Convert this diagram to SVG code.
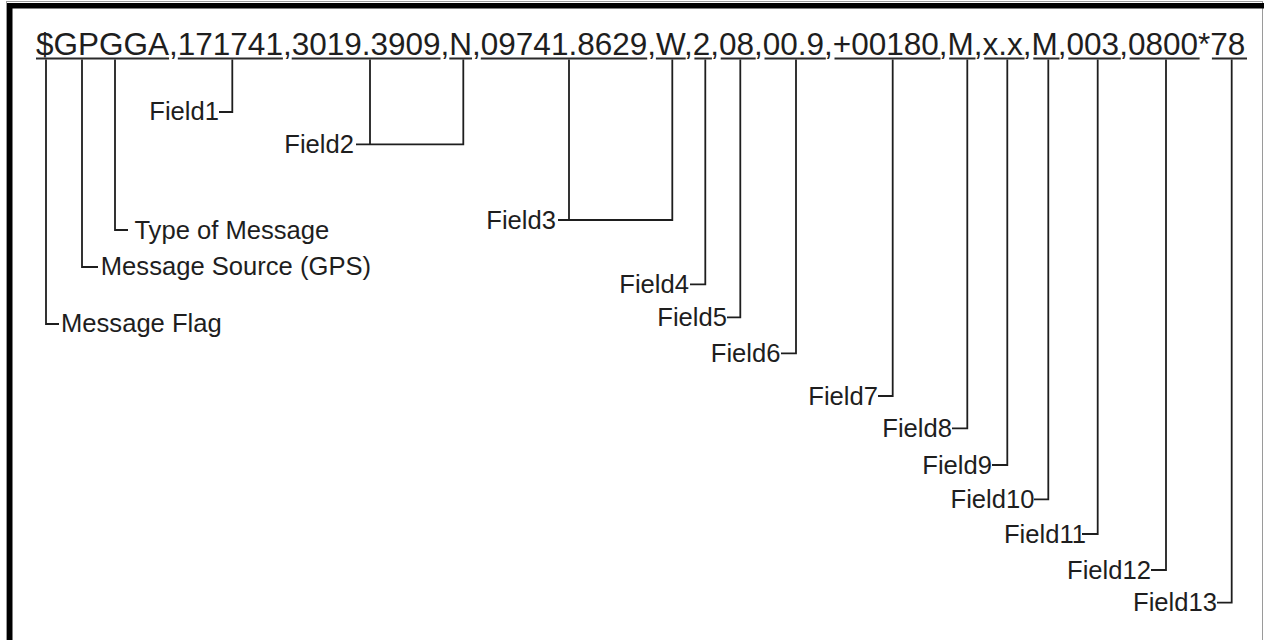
<svg xmlns="http://www.w3.org/2000/svg" width="1264" height="640" viewBox="0 0 1264 640">
  <style>
    .main { font-family: "Liberation Sans", Arial, sans-serif; font-size: 31.5px; fill: #1e1e1e; }
    .lbl { font-family: "Liberation Sans", Arial, sans-serif; font-size: 25.6px; fill: #1e1e1e; }
    .end { text-anchor: end; }
    .ul { stroke: #2a2a2a; stroke-width: 2; fill: none; }
    .conn { stroke: #1e1e1e; stroke-width: 1.8; fill: none; }
  </style>
  <rect x="0" y="0" width="1264" height="640" fill="#ffffff"/>
  <g id="frame">
    <rect x="6.5" y="1.5" width="1256" height="645" fill="none" stroke="#9a9a9a" stroke-width="1"/>
    <rect x="7" y="3" width="1257" height="5.5" fill="#000000"/>
    <rect x="7" y="3" width="5.5" height="637" fill="#000000"/>
  </g>
  <g id="sentence">
    <text class="main" x="36" y="55">$GPGGA,171741,3019.3909,N,09741.8629,W,2,08,00.9,+00180,M,x.x,M,003,0800*78</text>
    <g id="underlines" class="ul">
      <line x1="36" y1="58.5" x2="169.1" y2="58.5"/>
      <line x1="177.8" y1="58.5" x2="282.9" y2="58.5"/>
      <line x1="291.7" y1="58.5" x2="440.5" y2="58.5"/>
      <line x1="449.3" y1="58.5" x2="472" y2="58.5"/>
      <line x1="480.8" y1="58.5" x2="647.2" y2="58.5"/>
      <line x1="655.9" y1="58.5" x2="685.7" y2="58.5"/>
      <line x1="694.4" y1="58.5" x2="711.9" y2="58.5"/>
      <line x1="720.7" y1="58.5" x2="755.7" y2="58.5"/>
      <line x1="764.5" y1="58.5" x2="825.8" y2="58.5"/>
      <line x1="834.5" y1="58.5" x2="940.5" y2="58.5"/>
      <line x1="949.2" y1="58.5" x2="975.5" y2="58.5"/>
      <line x1="984.2" y1="58.5" x2="1024.5" y2="58.5"/>
      <line x1="1033.3" y1="58.5" x2="1059.5" y2="58.5"/>
      <line x1="1068.3" y1="58.5" x2="1120.8" y2="58.5"/>
      <line x1="1129.6" y1="58.5" x2="1199.6" y2="58.5"/>
      <line x1="1211.9" y1="58.5" x2="1247" y2="58.5"/>
    </g>
  </g>
  <g id="connectors" class="conn">
    <path d="M115,59.5 V230 H128"/>
    <path d="M82,59.5 V267 H98"/>
    <path d="M46,59.5 V324 H59"/>
    <path d="M232.3,59.5 V112 H219"/>
    <path d="M370,59.5 V144.3 M463.3,59.5 V144.3 H356"/>
    <path d="M569,59.5 V220 M672.3,59.5 V220 H558"/>
    <path d="M705.3,59.5 V284.3 H690"/>
    <path d="M740.3,59.5 V317.3 H727"/>
    <path d="M796,59.5 V353.3 H781"/>
    <path d="M892.7,59.5 V396 H878"/>
    <path d="M967.3,59.5 V428.3 H952"/>
    <path d="M1007.3,59.5 V465 H992"/>
    <path d="M1048.3,59.5 V499.3 H1034"/>
    <path d="M1097.7,59.5 V534 H1082"/>
    <path d="M1166,59.5 V570 H1151"/>
    <path d="M1231.7,59.5 V602.7 H1217"/>
  </g>
  <g id="type-of-message"><text class="lbl" x="134.4" y="239">Type of Message</text></g>
  <g id="message-source"><text class="lbl" x="100.8" y="275">Message Source (GPS)</text></g>
  <g id="message-flag"><text class="lbl" x="61" y="331.5">Message Flag</text></g>
  <g id="field1"><text class="lbl end" x="219" y="120">Field1</text></g>
  <g id="field2"><text class="lbl end" x="354" y="153">Field2</text></g>
  <g id="field3"><text class="lbl end" x="556" y="228.5">Field3</text></g>
  <g id="field4"><text class="lbl end" x="689" y="292.5">Field4</text></g>
  <g id="field5"><text class="lbl end" x="727" y="326">Field5</text></g>
  <g id="field6"><text class="lbl end" x="780.5" y="362">Field6</text></g>
  <g id="field7"><text class="lbl end" x="878" y="404.5">Field7</text></g>
  <g id="field8"><text class="lbl end" x="952" y="436.5">Field8</text></g>
  <g id="field9"><text class="lbl end" x="992" y="473.5">Field9</text></g>
  <g id="field10"><text class="lbl end" x="1034.5" y="508">Field10</text></g>
  <g id="field11"><text class="lbl end" x="1086" y="542.5">Field11</text></g>
  <g id="field12"><text class="lbl end" x="1151" y="578.5">Field12</text></g>
  <g id="field13"><text class="lbl end" x="1217" y="611">Field13</text></g>
</svg>
